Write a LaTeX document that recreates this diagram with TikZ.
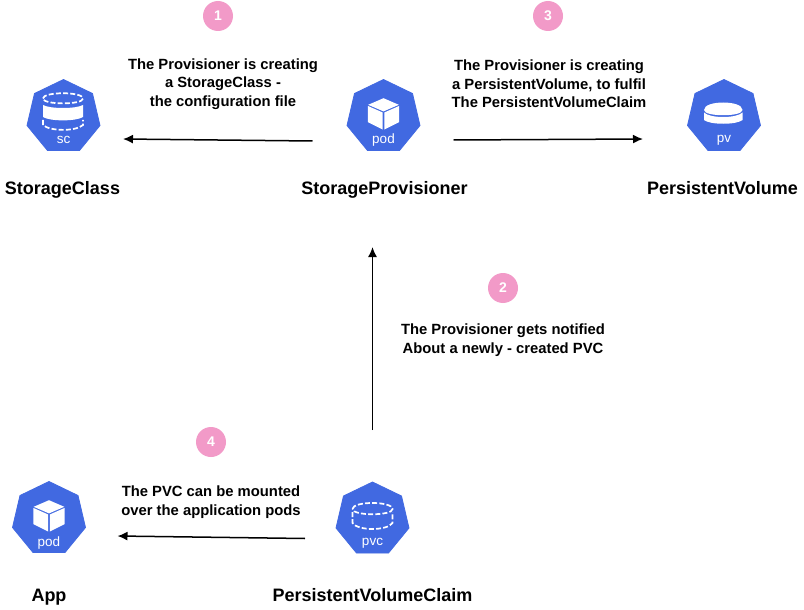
\documentclass[tikz,border=0pt]{standalone}
\usepackage{fontspec}
\setmainfont{Liberation Sans}
\usetikzlibrary{arrows.meta}
\definecolor{kblue}{HTML}{4169E1}
\definecolor{kpink}{HTML}{F29AC8}
\tikzset{
  x=1pt,y=-1pt,
  hept/.style={fill=kblue,draw=kblue,line width=0.8pt,line join=round},
  iconbox/.style={minimum width=73pt,minimum height=71pt,inner sep=0pt,outer sep=0pt,anchor=north},
  icontext/.style={text=white,font=\fontsize{13.5}{15}\selectfont,inner sep=0pt},
  lab/.style={font=\bfseries\fontsize{14.8}{18.5}\selectfont,align=center,inner sep=0pt,text=black},
  bigname/.style={font=\bfseries\fontsize{18}{21}\selectfont,inner sep=0pt,text=black,anchor=base},
  badge/.style={circle,fill=kpink,minimum size=30pt,inner sep=0pt,text=white,font=\bfseries\fontsize{14}{15}\selectfont},
  arr/.style={-{Latex[length=10pt,width=9pt]},line width=1.5pt,black},
  wd/.style={draw=white,line width=1.7pt,dash pattern=on 5pt off 2.2pt},
  wf/.style={fill=white}
}
\newcommand{\heptagon}[2]{%
  \fill[hept] (#1,#2) -- ++(29,14) -- ++(7.5,32) -- ++(-20.5,25) -- ++(-32,0) -- ++(-20.5,-25) -- ++(7.5,-32) -- cycle;}
\newcommand{\cube}[2]{%
  % top, left and right faces, centre (#1,#2)
  \fill[wf] (#1,#2-15.3) -- ++(15.3,6.6) -- ++(-15.3,6.6) -- ++(-15.3,-6.6) -- cycle;
  \fill[wf] (#1-15.6,#2-7.6) -- ++(14.8,6.6) -- ++(0,17) -- ++(-14.8,-7.4) -- cycle;
  \fill[wf] (#1+15.6,#2-7.6) -- ++(-14.8,6.6) -- ++(0,17) -- ++(14.8,-7.4) -- cycle;}
\begin{document}
\begin{tikzpicture}
\useasboundingbox (0,0) rectangle (804,610);
\fill[white] (0,0) rectangle (804,610);

% StorageClass icon
\heptagon{63.5}{79.5}
\node[iconbox] (sc) at (63.5,79.5) {};
\fill[wf] (43,105) .. controls (50,109) and (76,109) .. (83,105) -- (83,117) .. controls (76,121.5) and (50,121.5) .. (43,117) -- cycle;
\draw[wd] (43,98.5) .. controls (43,91.5) and (83,91.5) .. (83,98.5) .. controls (83,105) and (43,105) .. (43,98.5) -- cycle;
\draw[wd] (43,120) -- (43,125) .. controls (50,131.5) and (76,131.5) .. (83,125) -- (83,120);
\node[icontext] (sctext) at (63.5,140) {sc};

% StorageProvisioner icon
\heptagon{383.5}{79.5}
\node[iconbox] (pod) at (383.5,79.5) {};
\cube{383.5}{113.5}
\node[icontext] (podtext) at (383.5,140) {pod};

% PersistentVolume icon
\heptagon{724}{79.5}
\node[iconbox] (pv) at (724,79.5) {};
\fill[wf] (704,110) .. controls (704,100) and (742.5,100) .. (742.5,110) .. controls (742.5,117) and (704,117) .. (704,110) -- cycle;
\fill[wf] (704,112.5) .. controls (710,118.5) and (736.5,118.5) .. (742.5,112.5) -- (742.5,120) .. controls (736.5,125) and (710,125) .. (704,120) -- cycle;
\node[icontext] (pvtext) at (724,140) {pv};

% PersistentVolumeClaim icon
\heptagon{372.5}{482}
\node[iconbox] (pvc) at (372.5,482) {};
\draw[wd] (352.5,509) .. controls (352.5,501) and (392.5,501) .. (392.5,509) .. controls (392.5,516) and (352.5,516) .. (352.5,509) -- cycle;
\draw[wd] (352.5,512) -- (352.5,523) .. controls (358,531) and (387,531) .. (392.5,523) -- (392.5,512);
\node[icontext] (pvctext) at (372.5,543) {pvc};

% App icon
\heptagon{49}{481.5}
\node[iconbox] (app) at (49,481.5) {};
\cube{49}{515.5}
\node[icontext] (apptext) at (49,543) {pod};

% names
\node[bigname] (n1) at (62.5,194) {StorageClass};
\node[bigname] (n2) at (384.5,194) {StorageProvisioner};
\node[bigname] (n3) at (722.5,194) {PersistentVolume};
\node[bigname] (n4) at (372.5,601) {PersistentVolumeClaim};
\node[bigname] (n5) at (49,601) {App};

% badges
\node[badge] (b1) at (218,16) {1};
\node[badge] (b2) at (503,288) {2};
\node[badge] (b3) at (548,16) {3};
\node[badge] (b4) at (211,442) {4};

% labels
\node[lab] (l1) at (223,84) {The Provisioner is creating\\a StorageClass -\\the configuration file};
\node[lab] (l3) at (549,84) {The Provisioner is creating\\a PersistentVolume, to fulfil\\The PersistentVolumeClaim};
\node[lab] (l2) at (503,340) {The Provisioner gets notified\\About a newly - created PVC};
\node[lab] (l4) at (211,502) {The PVC can be mounted\\over the application pods};

% connectors
\draw[arr] ([shift={(-34.5,26)}]pod.west) -- ([shift={(23,24)}]sc.east);
\draw[arr] ([shift={(33.5,25)}]pod.east) -- ([shift={(-44.5,24)}]pv.west);
\draw[arr] ([yshift=52pt]pvc.north) -- ([xshift=-12pt,yshift=-49pt]n2.south);
\draw[arr] ([shift={(-31,21)}]pvc.west) -- ([shift={(32,19)}]app.east);
\end{tikzpicture}
\end{document}
